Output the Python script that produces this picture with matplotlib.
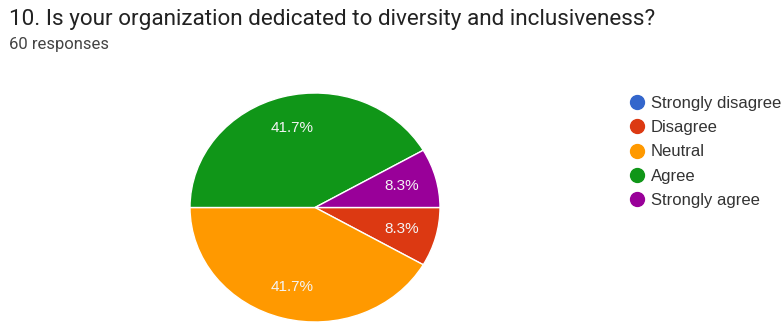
import matplotlib.pyplot as plt
from matplotlib.lines import Line2D

plt.rcParams['font.family'] = ['Roboto', 'DejaVu Sans']

title = "10. Is your organization dedicated to diversity and inclusiveness?"
subtitle = "60 responses"
labels = ["Strongly disagree", "Disagree", "Neutral", "Agree", "Strongly agree"]
counts = [0, 5, 25, 25, 5]
colors = ["#3366cc", "#dc3912", "#ff9900", "#109618", "#990099"]

fig = plt.figure(figsize=(7.83, 3.25), dpi=100)

# pie is slightly wider than tall, so axes aspect is left free
ax = fig.add_axes([190 / 783, 3 / 325, 250 / 783, 229 / 325])
vals = [c for c in counts if c > 0]
cols = [col for c, col in zip(counts, colors) if c > 0]
wedges, texts, autotexts = ax.pie(
    vals, colors=cols, startangle=0, counterclock=False,
    autopct=lambda p: f"{p:.1f}%", pctdistance=0.72,
    wedgeprops=dict(edgecolor="white", linewidth=1),
    textprops=dict(color="#f4f4f4", fontsize=11, family="Liberation Sans"))
ax.set_aspect('auto')
ax.set_xlim(-1, 1)
ax.set_ylim(-1, 1)

fig.text(9 / 783, 1 - 19 / 325, title, fontsize=16.2, color="#222222", va="center")
fig.text(9 / 783, 1 - 45 / 325, subtitle, fontsize=12, color="#444444", va="center")

handles = [Line2D([], [], marker='o', linestyle='none', markersize=10,
                  markerfacecolor=c, markeredgecolor=c) for c in colors]
fig.legend(handles, labels, loc='upper left', bbox_to_anchor=(624 / 783, 1 - 96 / 325),
           frameon=False, prop=dict(family="Liberation Sans", size=12), labelcolor="#333333",
           handletextpad=0.1, labelspacing=0.55, borderaxespad=0, borderpad=0,
           handlelength=1.5)

fig.savefig("out.png", dpi=100)
